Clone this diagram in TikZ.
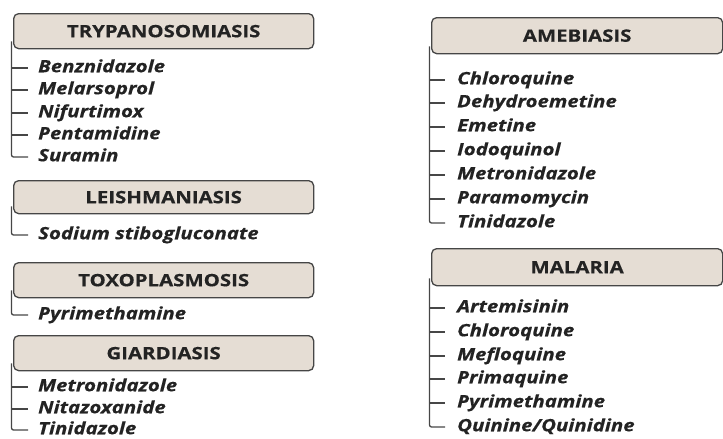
\documentclass[tikz,border=0pt]{standalone}
\usepackage{fontspec}
\setmainfont{Open Sans}
\newfontfamily\wfont[FakeStretch=1.2,FakeBold=0.4]{Open Sans}
\definecolor{boxfill}{RGB}{229,221,212}
\definecolor{boxline}{RGB}{70,70,70}
\definecolor{txt}{RGB}{35,35,35}
\tikzset{
  hdr/.style={draw=boxline, fill=boxfill, rounded corners=5pt, line width=1.3pt,
    minimum height=35pt, anchor=north west, inner sep=0pt, text=txt,
    font=\wfont\bfseries\fontsize{17}{17}\selectfont},
  item/.style={anchor=west, inner sep=0pt, text height=12pt, text depth=3.5pt, text=txt,
    font=\wfont\bfseries\itshape\fontsize{17}{17}\selectfont},
  conn/.style={draw=boxline, line width=1.3pt, rounded corners=2pt},
}
\begin{document}
\begin{tikzpicture}[x=1pt,y=-1pt]
\useasboundingbox (0,0) rectangle (723,439);
% left column
\node[hdr, minimum width=300pt] (tryp) at (13,13) {TRYPANOSOMIASIS};
\node[item] (t1) at (38,68) {Benznidazole};
\node[item] (t2) at (38,90) {Melarsoprol};
\node[item] (t3) at (38,113) {Nifurtimox};
\node[item] (t4) at (38,135) {Pentamidine};
\node[item] (t5) at (38,157) {Suramin};
\draw[conn] ([xshift=-1.5pt,yshift=8pt]tryp.south west) |- ([xshift=-10pt]t5.west);
\foreach \i in {1,...,4}{\draw[conn] ([xshift=-1.5pt]tryp.south west |- t\i.west) -- ([xshift=-10pt]t\i.west);}

\node[hdr, minimum width=300pt, minimum height=33pt] (leish) at (13,180) {LEISHMANIASIS};
\node[item] (l1) at (38,235) {Sodium stibogluconate};
\draw[conn] ([xshift=-1.5pt,yshift=8pt]leish.south west) |- ([xshift=-10pt]l1.west);

\node[hdr, minimum width=300pt] (toxo) at (13,262) {TOXOPLASMOSIS};
\node[item] (x1) at (38,315) {Pyrimethamine};
\draw[conn] ([xshift=-1.5pt,yshift=8pt]toxo.south west) |- ([xshift=-10pt]x1.west);

\node[hdr, minimum width=300pt] (giard) at (13,335) {GIARDIASIS};
\node[item] (g1) at (38,387) {Metronidazole};
\node[item] (g2) at (38,409) {Nitazoxanide};
\node[item] (g3) at (38,430) {Tinidazole};
\draw[conn] ([xshift=-1.5pt,yshift=8pt]giard.south west) |- ([xshift=-10pt]g3.west);
\foreach \i in {1,2}{\draw[conn] ([xshift=-1.5pt]giard.south west |- g\i.west) -- ([xshift=-10pt]g\i.west);}

% right column
\node[hdr, minimum width=291pt, minimum height=36pt] (ameb) at (431,17) {AMEBIASIS};
\node[item] (a1) at (457,80) {Chloroquine};
\node[item] (a2) at (457,103) {Dehydroemetine};
\node[item] (a3) at (457,127) {Emetine};
\node[item] (a4) at (457,151) {Iodoquinol};
\node[item] (a5) at (457,175) {Metronidazole};
\node[item] (a6) at (457,199) {Paramomycin};
\node[item] (a7) at (457,223) {Tinidazole};
\draw[conn] ([xshift=-1.5pt,yshift=8pt]ameb.south west) |- ([xshift=-12pt]a7.west);
\foreach \i in {1,...,6}{\draw[conn] ([xshift=-1.5pt]ameb.south west |- a\i.west) -- ([xshift=-12pt]a\i.west);}

\node[hdr, minimum width=291pt, minimum height=37pt] (mal) at (431,248) {MALARIA};
\node[item] (m1) at (457,308) {Artemisinin};
\node[item] (m2) at (457,332) {Chloroquine};
\node[item] (m3) at (457,356) {Mefloquine};
\node[item] (m4) at (457,379) {Primaquine};
\node[item] (m5) at (457,403) {Pyrimethamine};
\node[item] (m6) at (457,427) {Quinine/Quinidine};
\draw[conn] ([xshift=-1.5pt,yshift=8pt]mal.south west) |- ([xshift=-12pt]m6.west);
\foreach \i in {1,...,5}{\draw[conn] ([xshift=-1.5pt]mal.south west |- m\i.west) -- ([xshift=-12pt]m\i.west);}
\end{tikzpicture}
\end{document}
